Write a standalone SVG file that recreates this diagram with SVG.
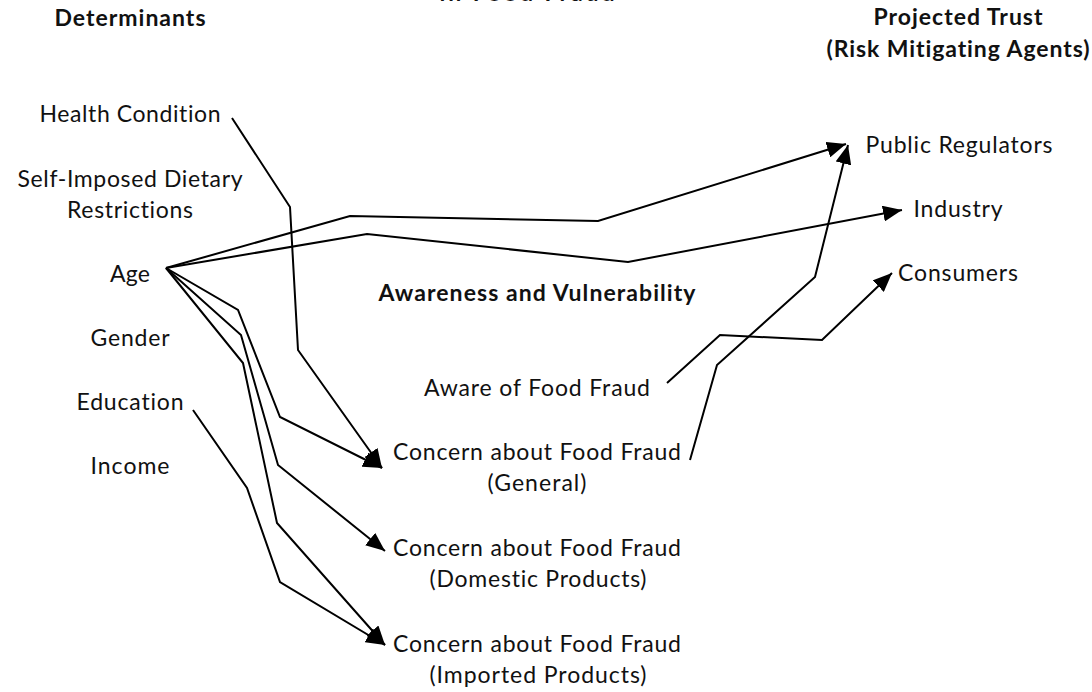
<svg xmlns="http://www.w3.org/2000/svg" width="1092" height="692" viewBox="0 0 1092 692">
<style>
  text { font-family: Lato, "Open Sans", "Liberation Sans", sans-serif; font-size: 23px; fill: #111; text-anchor: middle; font-variant-ligatures: none; }
  .h { font-weight: bold; }
  .c { fill: none; stroke: #000; stroke-width: 2; stroke-linejoin: miter; }
</style>
<defs>
  <marker id="ah" markerUnits="userSpaceOnUse" markerWidth="20" markerHeight="16" refX="19" refY="8" orient="auto">
    <path d="M0,0 L19,8 L0,16 z" fill="#000"/>
  </marker>
</defs>
<rect width="1092" height="692" fill="#fff"/>

<g id="titles">
  <text class="h" x="527" y="1" textLength="175" fill="#777">in Food Fraud</text>
  <text class="h" x="130" y="26" textLength="151">Determinants</text>
  <text class="h" x="958" y="25" textLength="169">Projected Trust</text>
  <text class="h" x="958" y="57" textLength="263">(Risk Mitigating Agents)</text>
  <text class="h" x="537" y="301" textLength="317">Awareness and Vulnerability</text>
</g>

<g id="health"><text x="130" y="122" textLength="181">Health Condition</text></g>
<g id="dietary">
  <text x="130" y="187" textLength="225">Self-Imposed Dietary</text>
  <text x="130" y="218" textLength="126">Restrictions</text>
</g>
<g id="age"><text x="130" y="282" textLength="40">Age</text></g>
<g id="gender"><text x="130" y="346" textLength="79">Gender</text></g>
<g id="education"><text x="130" y="410" textLength="107">Education</text></g>
<g id="income"><text x="130" y="474" textLength="79">Income</text></g>

<g id="aware"><text x="537" y="396" textLength="226">Aware of Food Fraud</text></g>
<g id="concern-general">
  <text x="537" y="460" textLength="288">Concern about Food Fraud</text>
  <text x="537" y="491" textLength="99">(General)</text>
</g>
<g id="concern-domestic">
  <text x="537" y="556" textLength="288">Concern about Food Fraud</text>
  <text x="538" y="587" textLength="217">(Domestic Products)</text>
</g>
<g id="concern-imported">
  <text x="537" y="652" textLength="288">Concern about Food Fraud</text>
  <text x="538" y="683" textLength="217">(Imported Products)</text>
</g>

<g id="regulators"><text x="959" y="153" textLength="187">Public Regulators</text></g>
<g id="industry"><text x="958" y="217" textLength="89">Industry</text></g>
<g id="consumers"><text x="958" y="281" textLength="120">Consumers</text></g>

<g id="connectors">
  <polyline class="c" marker-end="url(#ah)" points="232,118 290,207 298,350 382,468"/>
  <polyline class="c" marker-end="url(#ah)" points="166,268 350,216 598,221 846,144"/>
  <polyline class="c" marker-end="url(#ah)" points="166,268 367,234 628,262 902,210"/>
  <polyline class="c" marker-end="url(#ah)" points="166,268 238,310 280,417 382,468"/>
  <polyline class="c" marker-end="url(#ah)" points="166,268 241,335 278,465 385,551"/>
  <polyline class="c" marker-end="url(#ah)" points="166,268 243,363 277,523 385,645"/>
  <polyline class="c" marker-end="url(#ah)" points="193,410 247,488 280,582 385,645"/>
  <polyline class="c" marker-end="url(#ah)" points="667,383 720,335 822,340 892,273"/>
  <polyline class="c" marker-end="url(#ah)" points="690,460 717,365 815,277 848,145"/>
</g>
</svg>
